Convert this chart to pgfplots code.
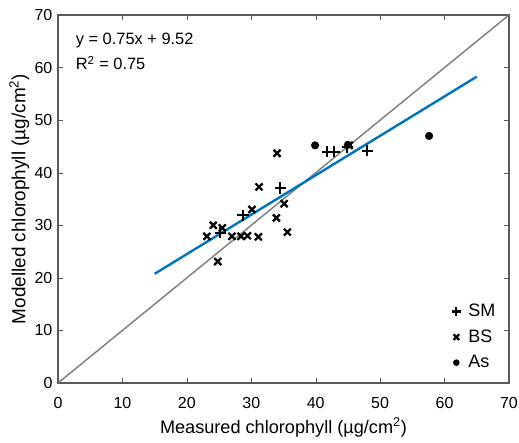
\documentclass[border=0pt]{standalone}
\usepackage{pgfplots}
\pgfplotsset{compat=1.18}
\usepackage{fontspec}
\setmainfont{Liberation Sans}
\definecolor{mblue}{rgb}{0.0,0.45,0.74}
\begin{document}
\fontsize{12}{15}\selectfont
\begin{tikzpicture}
\begin{axis}[
  name=ax,
  scale only axis,
  width=338.25pt, height=276pt,
  xmin=0, xmax=70, ymin=0, ymax=70,
  xtick={0,10,...,70}, ytick={0,10,...,70},
  tick align=inside,
  axis line style={gray!70!black, line width=0.9pt},
  major tick style={gray!70!black},
  major tick length=3.5pt,
  /pgf/number format/assume math mode=true,
  ticklabel style={font=\fontsize{12}{15}\selectfont},
  xticklabel style={yshift=-6.5pt},
  xlabel={Measured chlorophyll (µg/cm\textsuperscript{2})},
  ylabel={Modelled chlorophyll (µg/cm\textsuperscript{2})},
  every axis x label/.style={at={(axis description cs:0.5,-0.121)}, anchor=center, font=\fontsize{13.6}{16}\selectfont},
  every axis y label/.style={at={(axis description cs:-0.0857,0.5)}, anchor=center, rotate=90, font=\fontsize{14.2}{16}\selectfont},
  legend style={draw=none, fill=none, at={(0.985,0.02)}, anchor=south east,
    font=\fontsize{13.5}{16}\selectfont, row sep=4pt},
  legend image post style={scale=0.8},
  legend cell align=left,
  clip=false,
]
\addplot[gray, line width=1.1pt, forget plot] coordinates {(0,0) (70,70)};
\addplot[mblue, line width=1.8pt, forget plot] coordinates {(15,20.77) (65,58.27)};
\addplot[only marks, mark=+, mark size=4.3pt, line width=1.6pt, black] coordinates {
 (25.2,28.6) (28.7,31.9) (34.5,37.1) (41.8,44.0) (42.9,44.0) (44.9,44.9) (48.0,44.2)
};
\addlegendentry{\hspace{3.5pt}SM}
\addplot[only marks, mark=x, mark size=3.7pt, line width=1.7pt, black] coordinates {
 (34.0,43.7) (31.2,37.3) (30.1,33.0) (35.1,34.1) (33.9,31.4) (35.6,28.7)
 (31.1,27.8) (24.1,30.0) (23.1,27.9) (25.5,29.5) (27.0,27.9) (28.4,27.9)
 (29.4,28.0) (24.8,23.1) (45.2,45.2)
};
\addlegendentry{\hspace{3.5pt}BS}
\addplot[only marks, mark=*, mark size=2.8pt, black] coordinates {
 (39.9,45.2) (45.0,45.3) (57.6,47.0)
};
\addlegendentry{\hspace{3.5pt}As}
\node[anchor=west, align=left, font=\fontsize{12.3}{18.75}\selectfont] at (axis cs:1.9,63.0)
  {y = 0.75x + 9.52\\R\textsuperscript{2} = 0.75};
\end{axis}
\pgfresetboundingbox
\path ([xshift=-43.5pt,yshift=-45pt]ax.south west) rectangle ([xshift=7.5pt,yshift=11.25pt]ax.north east);
\end{tikzpicture}
\end{document}
